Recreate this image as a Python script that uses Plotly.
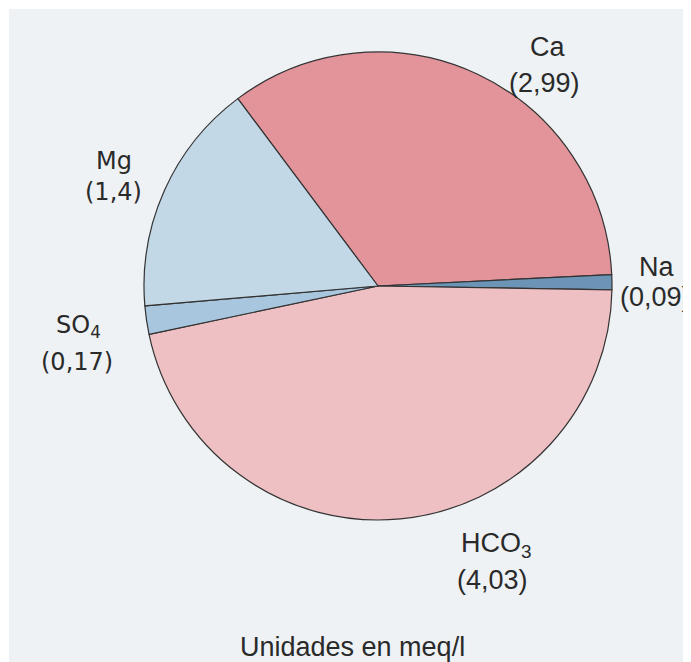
import plotly.graph_objects as go

# The page body adds an 8px margin, so the figure is 8px smaller and all
# pixel positions below are given in window pixels and shifted by OFF.
OFF = 8
W, H = 691 - OFF, 662 - OFF

labels = ["Ca", "Na", "HCO3", "SO4", "Mg"]
values = [2.99, 0.09, 4.03, 0.17, 1.4]
name_texts = ["Ca", "Na", "HCO<sub>3</sub>", "SO<sub>4</sub>", "Mg"]
value_texts = ["(2,99)", "(0,09)", "(4,03)", "(0,17)", "(1,4)"]
colors = ["#e3949b", "#6b94b7", "#efc0c3", "#a8c6de", "#c3d8e7"]

# label positions (window pixels): name x, name y, value x, value y
label_pos = [(547, 47, 544, 83), (656, 267, 655, 297), (496, 545, 492, 580),
             (78, 327, 77, 362), (114, 161, 113, 192)]
label_fonts = ["Liberation Sans", "Liberation Sans", "Liberation Sans", "DejaVu Sans", "DejaVu Sans"]
label_sizes = [27, 27, 27, 24, 24]

cx, cy, r = 378, 286, 234


def px(x):
    return (x - OFF) / W


def py(y):
    return 1 - (y - OFF) / H


fig = go.Figure()
fig.add_trace(go.Pie(
    labels=labels, values=values, sort=False, direction="clockwise",
    rotation=-36.8, textinfo="none", hoverinfo="label+value",
    marker=dict(colors=colors, line=dict(color="#333333", width=1.2)),
    domain=dict(x=[px(cx - r), px(cx + r)], y=[py(cy + r), py(cy - r)]),
    showlegend=False,
))

annotations = []
for nt, vt, (nx, ny, vx, vy), f, s in zip(name_texts, value_texts, label_pos, label_fonts, label_sizes):
    for t, x, y in ((nt, nx, ny), (vt, vx, vy)):
        annotations.append(dict(
            text=t, x=px(x), y=py(y), xref="paper", yref="paper",
            showarrow=False, xanchor="center", yanchor="middle",
            font=dict(family=f, size=s, color="#2a2a2a"),
        ))
annotations.append(dict(
    text="Unidades en meq/l", x=px(352), y=py(647), xref="paper", yref="paper",
    showarrow=False, xanchor="center", yanchor="middle",
    font=dict(family="Liberation Sans", size=27, color="#2a2a2a"),
))

fig.update_layout(
    width=W, height=H, margin=dict(l=0, r=0, t=0, b=0),
    paper_bgcolor="white", plot_bgcolor="white",
    shapes=[dict(type="rect", xref="paper", yref="paper", x0=px(9), x1=1, y0=0, y1=py(9),
                 fillcolor="#eef2f5", line=dict(width=0), layer="below")],
    annotations=annotations,
)

fig.write_html("out.html")
